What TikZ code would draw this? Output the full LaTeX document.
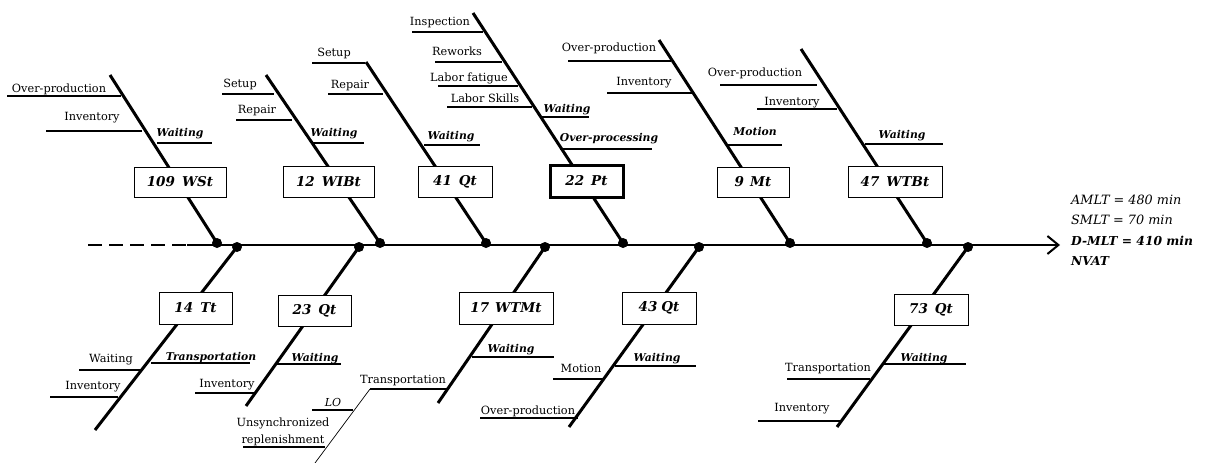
\documentclass[tikz,border=0pt]{standalone}
\usepackage{fontspec}
\setmainfont{DejaVu Serif}
\usetikzlibrary{arrows.meta}

% label with its underline: name, style, text, text x, baseline y, line x1, line x2, line y
\newcommand\ulab[8]{%
  \node[#2, anchor=base] (#1) at (#4,#5) {#3};
  \draw[tick] (#6,#8) -- (#7,#8);
}

\tikzset{
  bone/.style={line width=3pt},
  tick/.style={line width=1.1pt},
  thin branch/.style={line width=0.7pt},
  rg/.style={inner sep=0pt, font=\fontsize{11.3}{13}\selectfont},
  bi/.style={inner sep=0pt, font=\bfseries\itshape\fontsize{10.8}{13}\selectfont},
  it/.style={inner sep=0pt, font=\itshape\fontsize{11}{13}\selectfont},
  dot/.style={circle, fill=black, inner sep=0pt, minimum size=10pt},
  cbox/.style={draw, line width=1pt, fill=white, inner sep=0pt,
    font=\bfseries\itshape\fontsize{13.5}{16}\selectfont},
  sumtext/.style={inner sep=0pt, anchor=base west, font=\itshape\fontsize{12.8}{15}\selectfont},
  sumbold/.style={sumtext, font=\bfseries\itshape\fontsize{12.3}{15}\selectfont},
}

\begin{document}
\begin{tikzpicture}[x=1pt, y=-1pt]
\useasboundingbox (0,0) rectangle (1205,463);

% main spine
\coordinate (tail) at (88,245);
\coordinate (spstart) at (187,245);
\coordinate (head) at (1060,245);
\draw[line width=2.6pt, dash pattern=on 14pt off 7pt] (tail) -- (spstart);
\draw[line width=2.6pt, -{Straight Barb[length=11pt,width=18pt,line width=2pt]}] (spstart) -- (head);

% upper bones
\coordinate (ut1) at (110,75);   \node[dot] (ud1) at (217,243) {};
\coordinate (ut2) at (266,75);   \node[dot] (ud2) at (380,243) {};
\coordinate (ut3) at (366,62);   \node[dot] (ud3) at (486,243) {};
\coordinate (ut4) at (473,13);   \node[dot] (ud4) at (623,243) {};
\coordinate (ut5) at (659,40);   \node[dot] (ud5) at (790,243) {};
\coordinate (ut6) at (801,49);   \node[dot] (ud6) at (927,243) {};
\foreach \i in {1,...,6} \draw[bone] (ut\i) -- (ud\i.center);

% lower bones
\node[dot] (ld1) at (237,247) {};  \coordinate (le1) at (95,430);
\node[dot] (ld2) at (359,247) {};  \coordinate (le2) at (246,406);
\node[dot] (ld3) at (545,247) {};  \coordinate (le3) at (438,403);
\node[dot] (ld4) at (699,247) {};  \coordinate (le4) at (569,427);
\node[dot] (ld5) at (968,247) {};  \coordinate (le5) at (837,427);
\foreach \i in {1,...,5} \draw[bone] (ld\i.center) -- (le\i);

% causes on the upper bones
\ulab{u1a}{rg}{Over-production}{59}{92}{7}{121}{96}
\ulab{u1b}{rg}{Inventory}{92}{120}{46}{142}{131}
\ulab{u1c}{bi}{Waiting}{180}{136}{157}{212}{143}

\ulab{u2a}{rg}{Setup}{240}{87}{222}{274}{94}
\ulab{u2b}{rg}{Repair}{257}{113}{236}{292}{120}
\ulab{u2c}{bi}{Waiting}{334}{136}{311}{364}{143}

\ulab{u3a}{rg}{Setup}{334}{56}{312}{365}{63}
\ulab{u3b}{rg}{Repair}{350}{88}{328}{383}{94}
\ulab{u3c}{bi}{Waiting}{451}{139}{424}{480}{145}

\ulab{u4a}{rg}{Inspection}{440}{25}{412}{483}{32}
\ulab{u4b}{rg}{Reworks}{457}{55}{435}{502}{62}
\ulab{u4c}{rg}{Labor fatigue}{469}{81}{438}{518}{86}
\ulab{u4d}{rg}{Labor Skills}{485}{102}{447}{532}{107}
\ulab{u4e}{bi}{Waiting}{567}{112}{541}{589}{117}
\ulab{u4f}{bi}{Over-processing}{609}{141}{560}{652}{149}

\ulab{u5a}{rg}{Over-production}{609}{51}{568}{671}{61}
\ulab{u5b}{rg}{Inventory}{644}{85}{607}{692}{93}
\ulab{u5c}{bi}{Motion}{755}{135}{728}{782}{145}

\ulab{u6a}{rg}{Over-production}{755}{76}{720}{817}{85}
\ulab{u6b}{rg}{Inventory}{792}{105}{757}{837}{109}
\ulab{u6c}{bi}{Waiting}{902}{138}{865}{943}{144}

% causes on the lower bones
\ulab{l1a}{bi}{Transportation}{211}{360}{151}{250}{363}
\ulab{l1b}{rg}{Waiting}{111}{362}{79}{140}{370}
\ulab{l1c}{rg}{Inventory}{93}{389}{50}{118}{397}

\ulab{l2a}{bi}{Waiting}{315}{361}{277}{341}{364}
\ulab{l2b}{rg}{Inventory}{227}{387}{195}{255}{393}

\ulab{l3a}{bi}{Waiting}{511}{352}{472}{554}{357}
\ulab{l3b}{rg}{Transportation}{403}{383}{370}{447}{389}

% thin sub-branch hanging from the transportation cause
\coordinate (sbtop) at (370,389);
\coordinate (sbend) at (315,463);
\draw[thin branch] (sbtop) -- (sbend);
\ulab{l2c}{it}{LO}{333}{406}{312}{353}{410}
\node[rg, anchor=base] (uns1) at (283,426) {Unsynchronized};
\node[rg, anchor=base] (uns2) at (283,443) {replenishment};
\draw[tick] (243,447) -- (325,447);

\ulab{l4a}{bi}{Waiting}{657}{361}{615}{696}{366}
\ulab{l4b}{rg}{Motion}{581}{372}{553}{603}{379}
\ulab{l4c}{rg}{Over-production}{528}{414}{480}{578}{418}

\ulab{l5a}{bi}{Waiting}{924}{361}{883}{966}{364}
\ulab{l5b}{rg}{Transportation}{828}{371}{787}{870}{379}
\ulab{l5c}{rg}{Inventory}{802}{411}{758}{840}{421}

% time boxes
\node[cbox, minimum width=92pt, minimum height=30pt] (b1) at (180,182) {109\hspace{7pt}WSt};
\node[cbox, minimum width=91pt, minimum height=31pt] (b2) at (328.5,181.5) {12\hspace{7pt}WIBt};
\node[cbox, minimum width=74pt, minimum height=31pt] (b3) at (455,181.5) {41\hspace{7pt}Qt};
\node[cbox, line width=3pt, minimum width=73pt, minimum height=32pt] (b4) at (586.5,181) {22\hspace{7pt}Pt};
\node[cbox, minimum width=72pt, minimum height=30pt] (b5) at (753,182) {9\hspace{6pt}Mt};
\node[cbox, minimum width=94pt, minimum height=31pt] (b6) at (895,181.5) {47\hspace{7pt}WTBt};

\node[cbox, minimum width=73pt, minimum height=32pt] (c1) at (195.5,308) {14\hspace{7pt}Tt};
\node[cbox, minimum width=73pt, minimum height=31pt] (c2) at (314.5,310.5) {23\hspace{7pt}Qt};
\node[cbox, minimum width=94pt, minimum height=32pt] (c3) at (506,308) {17\hspace{6pt}WTMt};
\node[cbox, minimum width=74pt, minimum height=32pt] (c4) at (659,308) {43\hspace{4pt}Qt};
\node[cbox, minimum width=74pt, minimum height=31pt] (c5) at (931,309.5) {73\hspace{7pt}Qt};

% lead-time summary
\node[sumtext] (s1) at (1071,204) {AMLT = 480 min};
\node[sumtext] (s2) at (1071,224) {SMLT = 70 min};
\node[sumbold] (s3) at (1071,245) {D-MLT = 410 min};
\node[sumbold] (s4) at (1071,265) {NVAT};
\end{tikzpicture}
\end{document}
